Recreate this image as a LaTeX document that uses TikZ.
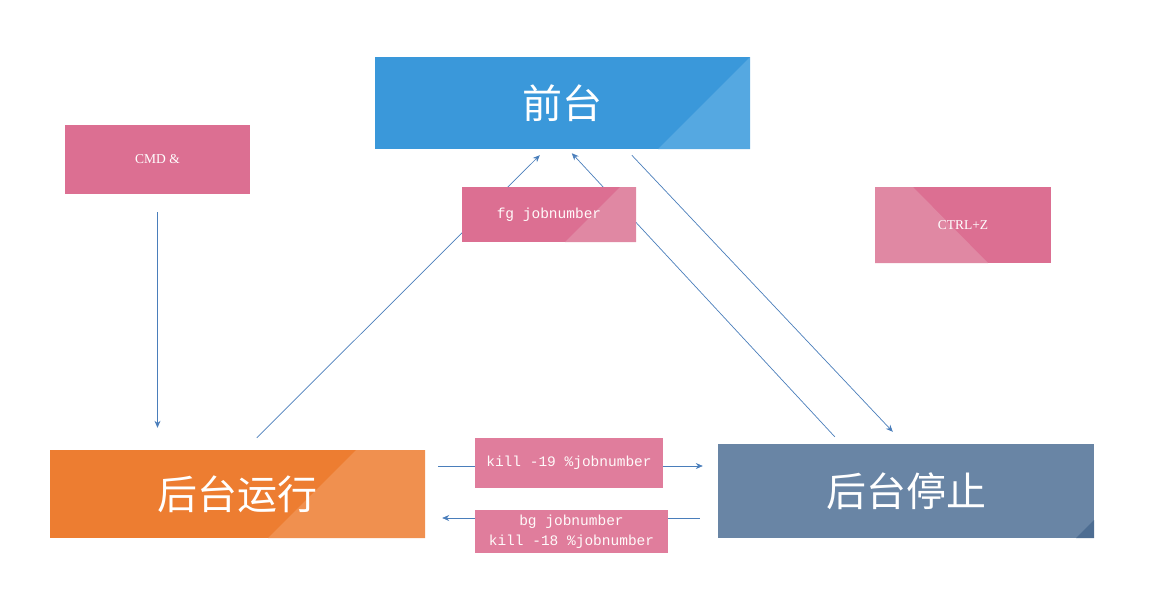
\documentclass[tikz,border=0pt]{standalone}
\usepackage{fontspec}
\setmainfont{Liberation Serif}
\setmonofont{Liberation Mono}
\newfontfamily\cjk{Noto Sans CJK SC}
\usetikzlibrary{arrows.meta}

\definecolor{qtblue}{HTML}{3A98DA}
\definecolor{qtlight}{HTML}{55A8E1}
\definecolor{hyorange}{HTML}{ED7D31}
\definecolor{hylight}{HTML}{F0904F}
\definecolor{hsslate}{HTML}{6985A5}
\definecolor{hsdark}{HTML}{4D6D92}
\definecolor{cmdpink}{HTML}{DC6F92}
\definecolor{pinklight}{HTML}{E088A3}
\definecolor{cmdlabel}{HTML}{E07D9C}
\definecolor{linkblue}{HTML}{4A7EBB}

\begin{document}
\begin{tikzpicture}[x=1pt,y=-1pt,
    state/.style={rectangle,inner sep=0pt,text=white,font=\cjk\fontsize{40}{44}\selectfont},
    cmdbox/.style={rectangle,inner sep=0pt,fill=cmdpink,text=white,font=\fontsize{13.5}{15}\selectfont},
    codebox/.style={rectangle,inner sep=0pt,fill=cmdlabel,text=white!92!pink,align=center,font=\ttfamily\fontsize{14.5}{19.5}\selectfont},
    link/.style={draw=linkblue,line width=0.7pt,-{Stealth[length=7pt,width=6pt]}}]
                \useasboundingbox (0,0) rectangle (1165,589);
                % the three states
                \node[state,fill=qtblue,minimum width=375pt,minimum height=92pt,
                    path picture={\fill[qtlight] ([xshift=-92pt]path picture bounding box.south east)
                    -- (path picture bounding box.south east) -- (path picture bounding box.north east) -- cycle;}]
                    (qt) at (562.5,103) {前台};
                \node[state,fill=hyorange,minimum width=375pt,minimum height=88pt,
                    path picture={\fill[hylight] ([xshift=-69pt]path picture bounding box.north east)
                    -- (path picture bounding box.north east) -- (path picture bounding box.south east)
                    -- ([xshift=-157pt]path picture bounding box.south east) -- cycle;}]
                    (hy) at (237.5,494) {后台运行};
                \node[state,fill=hsslate,minimum width=376pt,minimum height=94pt,
                    path picture={\fill[hsdark] ([xshift=-18pt]path picture bounding box.south east)
                    -- (path picture bounding box.south east) -- ([yshift=18pt]path picture bounding box.south east) -- cycle;}]
                    (hs) at (906,491) {后台停止};
                \node[cmdbox,minimum width=185pt,minimum height=69pt] (cmd) at (157.5,159.5) {CMD \&};
                \node[cmdbox,minimum width=176pt,minimum height=76pt,
                    path picture={\fill[pinklight] (path picture bounding box.north west)
                    -- ([xshift=38pt]path picture bounding box.north west)
                    -- ([xshift=113pt]path picture bounding box.south west)
                    -- (path picture bounding box.south west) -- cycle;}]
                    (ctrl) at (963,225) {CTRL+Z};
                % connectors
                \draw[link,shorten <=18pt,shorten >=22pt] (cmd.south) -- (cmd.south |- hy.north);
                \draw[link] ([xshift=207pt,yshift=12pt]hy.north west) -- ([xshift=165pt,yshift=-6pt]qt.south west);
                \draw[link] ([xshift=117pt,yshift=7pt]hs.north west) -- ([xshift=197pt,yshift=-4pt]qt.south west);
                \draw[link] ([xshift=257pt,yshift=-6pt]qt.south west) -- ([xshift=175pt,yshift=12pt]hs.north west);
                \draw[link] ([xshift=13pt,yshift=28pt]hy.east) -- ([xshift=-15pt,yshift=25pt]hs.west);
                \draw[link] ([xshift=-18pt,yshift=-27pt]hs.west) -- ([xshift=17pt,yshift=-24pt]hy.east);
                % commands on the connectors
                \node[codebox,fill=cmdpink,minimum width=174pt,minimum height=55pt,
                    path picture={\fill[pinklight] ([xshift=-16pt]path picture bounding box.north east)
                    -- (path picture bounding box.north east) -- (path picture bounding box.south east)
                    -- ([xshift=-71pt]path picture bounding box.south east) -- cycle;}]
                    (fg) at (549,214.5) {fg jobnumber};
                \node[codebox,minimum width=188pt,minimum height=50pt] (kill) at (569,463) {kill -19 \%jobnumber};
                \node[codebox,minimum width=193pt,minimum height=43pt] (bg) at (571.5,531.5) {bg jobnumber\\kill -18 \%jobnumber};
\end{tikzpicture}
\end{document}
